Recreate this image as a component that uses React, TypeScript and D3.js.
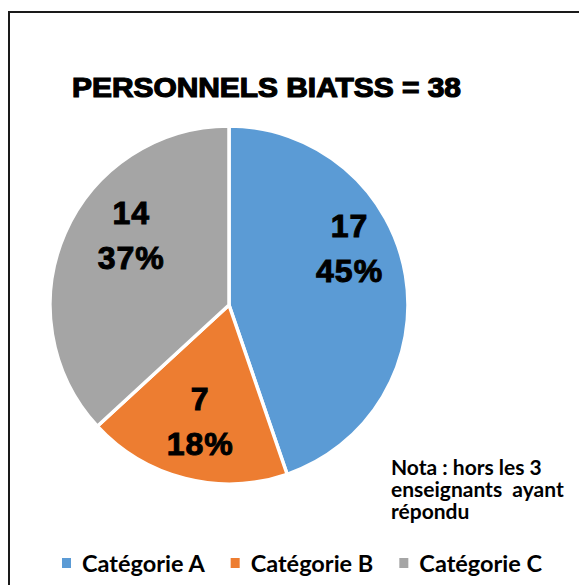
import React, { useEffect, useRef } from 'react';
import * as d3 from 'd3';

// données
const categories = ['Catégorie A', 'Catégorie B', 'Catégorie C'];
const values = [17, 7, 14];
const percents = ['45%', '18%', '37%'];
const colors = ['#5B9BD5', '#ED7D31', '#A5A5A5'];
const title = 'PERSONNELS BIATSS = 38';
const notaLines = ['Nota : hors les 3', 'enseignants  ayant', 'répondu'];

const width = 579;
const height = 585;
const cx = 229;
const cy = 305;
const radius = 179;
// décalage des étiquettes (placement "ajustement optimal" d'Excel)
const labelNudge = [
  [-3, -37],
  [2, -6],
  [17, -21],
];

export default function App() {
  const svgRef = useRef<SVGSVGElement>(null);

  useEffect(() => {
    const svg = d3.select(svgRef.current);
    svg.selectAll('*').remove();
    svg.attr('width', width).attr('height', height);

    svg
      .append('rect')
      .attr('width', width)
      .attr('height', height)
      .attr('fill', '#fff');

    // cadre
    svg
      .append('rect')
      .attr('x', 9)
      .attr('y', 12)
      .attr('width', 700)
      .attr('height', 700)
      .attr('fill', 'none')
      .attr('stroke', '#1a1a1a')
      .attr('stroke-width', 2);

    // titre
    svg
      .append('text')
      .attr('x', 72)
      .attr('y', 97)
      .attr('textLength', 389)
      .attr('lengthAdjust', 'spacingAndGlyphs')
      .attr('font-family', '"Liberation Sans", Arial, sans-serif')
      .attr('font-weight', 'bold')
      .attr('font-size', 27)
      .attr('stroke', '#000')
      .attr('stroke-width', 1.2)
      .attr('fill', '#000')
      .text(title);

    const pie = d3
      .pie<number>()
      .sort(null)
      .value((d) => d);
    const arcs = pie(values);
    const arc = d3.arc<d3.PieArcDatum<number>>().innerRadius(0).outerRadius(radius);
    const labelArc = d3
      .arc<d3.PieArcDatum<number>>()
      .innerRadius(radius * 0.7)
      .outerRadius(radius * 0.7);

    const g = svg.append('g').attr('transform', `translate(${cx},${cy})`);
    g.selectAll('path')
      .data(arcs)
      .enter()
      .append('path')
      .attr('d', arc)
      .attr('fill', (d, i) => colors[i])
      .attr('stroke', '#fff')
      .attr('stroke-width', 3.5)
      .attr('stroke-linejoin', 'round');

    // étiquettes
    const labels = g
      .selectAll('g.lbl')
      .data(arcs)
      .enter()
      .append('g')
      .attr('class', 'lbl')
      .attr('transform', (d, i) => {
        const [x, y] = labelArc.centroid(d);
        return `translate(${x + labelNudge[i][0]},${y + labelNudge[i][1]})`;
      })
      .attr('font-family', '"Liberation Sans", Arial, sans-serif')
      .attr('font-weight', 'bold')
      .attr('font-size', 32)
      .attr('letter-spacing', 1)
      .attr('text-anchor', 'middle')
      .attr('fill', '#000')
      .attr('stroke', '#000')
      .attr('stroke-width', 1);
    labels
      .append('text')
      .attr('y', -10)
      .text((d) => d.data);
    labels
      .append('text')
      .attr('y', 35)
      .text((d, i) => percents[i]);

    // nota
    notaLines.forEach((line, i) => {
      svg
        .append('text')
        .attr('x', 391)
        .attr('y', 475 + i * 22)
        .attr('font-family', 'Lato, "Open Sans", sans-serif')
        .attr('font-weight', 'bold')
        .attr('font-size', 21)
        .attr('fill', '#000')
        .style('white-space', 'pre')
        .text(line);
    });

    // légende
    const legendX = d3.scaleBand().domain(categories).range([62, 568]);
    const leg = svg
      .selectAll('g.leg')
      .data(categories)
      .enter()
      .append('g')
      .attr('class', 'leg')
      .attr('transform', (d) => `translate(${legendX(d)},0)`);
    leg
      .append('rect')
      .attr('y', 558)
      .attr('width', 9)
      .attr('height', 10)
      .attr('fill', (d, i) => colors[i]);
    leg
      .append('text')
      .attr('x', 20)
      .attr('y', 572)
      .attr('font-family', 'Lato, "Open Sans", sans-serif')
      .attr('font-weight', 'bold')
      .attr('font-size', 23.5)
      .attr('fill', '#000')
      .text((d) => d);
  }, []);

  return (
    <div style={{ position: 'absolute', left: 0, top: 0 }}>
      <svg ref={svgRef} style={{ display: 'block' }}></svg>
    </div>
  );
}
